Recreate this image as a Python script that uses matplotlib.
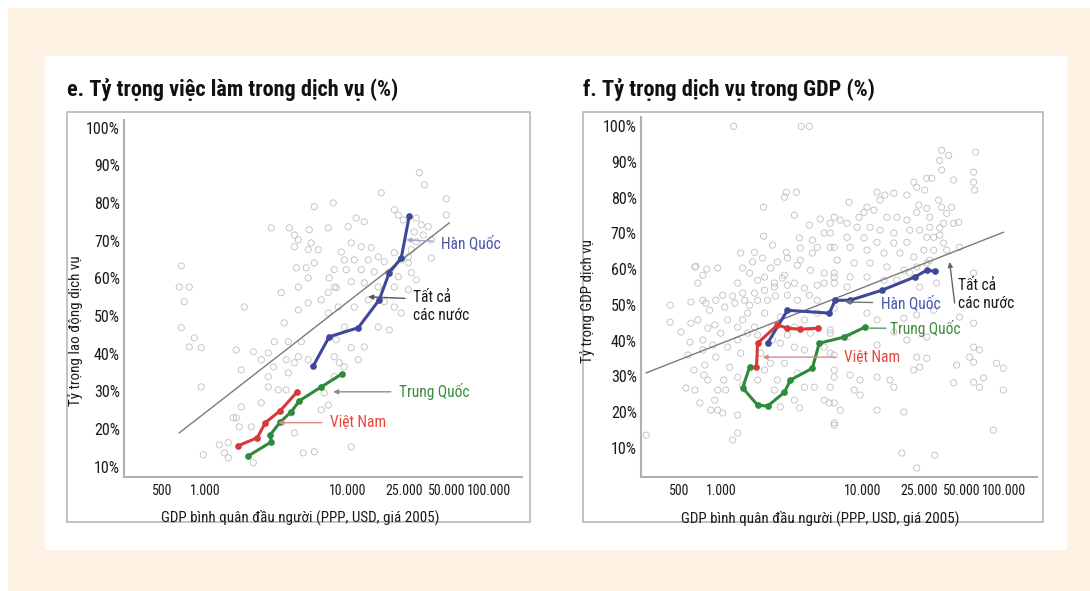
import numpy as np
import matplotlib
matplotlib.use('Agg')
import matplotlib.pyplot as plt
from matplotlib.patches import Rectangle
from matplotlib.ticker import FixedLocator, NullLocator

plt.rcParams['font.family'] = ['Roboto Condensed', 'DejaVu Sans']

# ---- background scatter, all countries (GDP per capita, share %) ----
emp_gdp = [5860, 7960, 2917, 3910, 4240, 7350, 5400, 5310, 6250, 4520, 4240, 678, 656, 771, 711,
           1884, 3428, 4520, 4380, 5140, 5860, 5310, 4520, 5310, 6560, 7350, 678, 837, 771, 937,
           1653, 2180, 3600, 3845, 3063, 4743, 2780, 3015, 3720, 4240, 4520, 5310, 3845, 2479, 1794,
           937, 2780, 3268, 3720, 2780, 2479, 1653, 1794, 1574, 2109, 1736, 1256, 1454, 1362, 968,
           1454, 4900, 5860, 2180, 4240, 4036, 6890, 8090, 8090, 7350, 6560, 7350, 8090, 7460, 5570,
           32150, 34860, 17340, 49770, 49770, 21430, 22870, 11570, 13180, 10160, 24790, 30620, 33190,
           37170, 29640, 34270, 30620, 39080, 39080, 28250, 10670, 12560, 14760, 9080, 9530, 11200,
           14060, 16520, 18230, 21430, 23990, 26900, 8090, 9840, 12560, 15490, 19450, 22870, 28250,
           30620, 21430, 26900, 8370, 10670, 13180, 16520, 8650, 11200, 14060, 18230, 21430, 23990,
           19760, 16520, 9530, 8370, 10670, 13180, 11950, 9530, 8790, 10670, 26900]
emp_pct = [79.0, 80.0, 73.4, 73.4, 71.5, 73.4, 72.9, 67.6, 67.6, 70.2, 68.4, 63.3, 57.7, 57.7, 53.8,
           52.4, 56.2, 57.7, 62.8, 62.8, 64.1, 60.1, 51.6, 53.5, 54.3, 50.8, 46.9, 44.2, 41.8, 41.6,
           41.0, 40.5, 48.2, 43.2, 43.2, 43.2, 40.2, 36.5, 38.4, 37.6, 39.2, 38.4, 34.9, 38.4, 35.7,
           31.2, 31.2, 30.4, 30.4, 33.9, 27.0, 23.0, 25.9, 23.0, 20.6, 20.6, 15.8, 16.4, 13.7, 13.2,
           12.4, 13.7, 14.0, 11.1, 19.0, 24.3, 29.6, 39.2, 33.9, 26.4, 25.1, 56.2, 57.7, 60.1, 69.4,
           88.0, 84.8, 82.7, 81.1, 76.8, 78.2, 76.8, 76.0, 75.0, 73.7, 75.5, 76.0, 74.2,
           73.7, 72.3, 71.5, 69.7, 70.2, 65.4, 67.6, 69.4, 68.4, 68.1, 67.0, 64.9, 64.9,
           64.9, 65.7, 64.4, 66.8, 64.9, 64.1, 62.3, 62.3, 62.3, 61.7, 61.5, 60.4, 61.5,
           59.6, 57.7, 57.0, 57.5, 59.1, 58.8, 57.7, 52.4, 52.4, 54.3, 53.8, 52.4, 50.8,
           46.3, 47.1, 47.1, 43.7, 41.6, 41.8, 38.4, 36.5, 37.6, 15.3, 65.7]

gdp_gdp = [1216, 3656, 4170, 2870, 3374, 2780, 1977, 3268, 4980, 4170, 5860, 1977, 2286, 3540, 4380,
           5310, 4743, 5860, 1362, 1706, 2870, 3600, 4380, 3600, 656, 784, 937, 735, 678, 1574,
           2213, 2010, 2780, 4240, 5310, 1297, 2360, 3268, 5310, 6250,
           35980, 40360, 62500, 34860, 35980, 60530, 43770, 60530, 61520, 22870, 28250, 30620, 23990,
           27340, 12560, 14290, 16520, 20420, 13180, 7960, 10670, 11950, 10160, 9370, 24790, 23990,
           28250, 34270, 35980, 42360, 29640, 39080, 47420, 43770, 37170, 34860, 29640, 17340, 14760,
           20420, 6250, 6890, 7709, 9080, 11200, 13180, 16520, 21430, 25190, 5860, 7709, 10160, 12560,
           16520, 20420, 28250, 31620, 34860, 37170, 26900, 31620, 39080, 48180, 6250, 8090, 10670,
           14060, 18230, 22870, 6560, 8650, 11200, 14760, 19450, 23990, 28250, 29640, 60530, 6250,
           8090, 10670, 14060, 17340, 21430,
           431, 605, 771, 431, 605, 514, 596, 759, 908, 893, 1050, 1236, 1454, 1706, 2010, 2360, 2917,
           3845, 4743, 1100, 984, 1100, 1297, 1524, 1362, 1138, 1297, 1067, 937, 797, 558, 646, 700,
           893, 937, 1016, 1297, 837, 292, 1194, 1297, 2360, 2600, 3268, 3540, 3845, 4520, 5310, 6250,
           5770, 6250, 2213, 2780, 3428, 2479, 2010, 1884, 2600, 3268, 3845, 5310, 5860, 1524, 2010,
           2600, 3845, 4743, 1297, 1706, 3268, 4240, 5860,
           6250, 7709, 25190, 33190, 6250, 10670, 12560, 19450, 23990, 31620, 60530, 48180, 5860, 7709,
           16520, 20420, 28250, 60530, 66690, 12560, 6250, 23990, 28250, 45920, 56750, 71120, 60530,
           66690, 87930, 98400, 98400, 60530, 25190, 22870, 6250, 8090, 9530, 12560, 15490, 16520,
           43770, 5860, 8650, 6250, 6890, 19450, 6250, 83750, 18840, 32150, 23990, 9530, 12560, 646,
           735, 822, 908, 1016, 1194, 1406, 1574, 1794, 2109, 2399, 2917, 3428, 4170, 4743, 678, 797,
           1406, 1794, 2286, 2917, 735, 865, 735, 577, 636, 747, 1033, 1794, 1406, 1406, 1653, 1945,
           2479, 2917, 3428, 1794, 2690]
gdp_pct = [99.9, 99.9, 99.9, 81.5, 81.5, 80.1, 77.3, 75.1, 74.0, 72.3, 72.8, 69.2, 66.7, 68.7, 68.1,
           70.1, 66.1, 66.1, 64.5, 64.7, 64.7, 65.9, 64.5, 62.5, 60.8, 60.0, 60.3, 58.3, 56.1, 58.9,
           60.3, 57.8, 58.3, 59.7, 58.9, 56.1, 56.1, 56.1, 56.1, 57.8,
           93.2, 91.8, 92.7, 90.4, 87.7, 87.1, 84.9, 84.3, 82.1, 84.3, 85.4, 85.4, 82.9,
           82.1, 81.5, 80.7, 81.2, 80.7, 79.3, 78.7, 77.3, 76.5, 75.9, 74.5, 77.9, 75.9,
           77.0, 79.3, 77.3, 77.3, 74.5, 75.6, 73.1, 72.8, 72.8, 71.5, 71.7, 74.5, 74.5,
           73.7, 74.5, 73.7, 72.8, 71.7, 71.7, 70.9, 70.1, 70.9, 70.9, 70.1, 68.9, 68.7, 67.5,
           67.3, 67.5, 68.9, 68.9, 69.5, 67.3, 65.3, 65.3, 65.3, 66.1, 66.1, 66.1, 65.3,
           64.5, 64.5, 63.4, 62.5, 61.7, 61.7, 60.6, 59.7, 60.6, 61.7, 62.5, 58.9, 58.9,
           57.8, 57.8, 56.9, 56.9, 58.9,
           49.9, 50.8, 50.5, 45.2, 44.9, 42.4, 39.6, 33.2, 35.4, 44.4, 49.4, 50.5, 51.3, 53.3, 54.1, 55.0, 55.5,
           54.7, 55.5, 45.8, 42.1, 38.2, 40.2, 42.1, 36.5, 32.6, 29.8, 26.2, 26.2, 29.0, 26.8, 26.2, 22.6,
           23.4, 20.6, 19.8, 19.2, 20.6, 13.6, 12.2, 14.2, 26.2, 21.5, 23.4, 21.2, 27.0, 27.0, 23.4, 29.8,
           22.6, 17.0, 33.7, 33.7, 30.9, 29.0, 31.8, 36.5, 39.3, 38.2, 37.4, 38.2, 36.5, 47.7, 47.7,
           46.6, 45.8, 47.7, 43.8, 43.8, 43.8, 42.1, 43.0,
           56.1, 55.0, 55.0, 56.1, 49.1, 47.7, 45.8, 46.3, 47.2, 48.5, 44.9, 46.6, 42.1, 41.0,
           42.4, 40.2, 41.0, 38.2, 37.4, 38.8, 36.0, 35.4, 35.1, 33.2, 35.4, 29.6, 28.4,
           27.0, 33.7, 32.3, 26.2, 34.0, 32.6, 31.8, 31.8, 30.4, 29.0, 29.8, 29.0, 27.0,
           28.2, 27.0, 26.2, 22.6, 20.6, 20.1, 16.4, 15.0, 8.6, 8.0, 4.4, 24.8, 20.6, 60.6,
           51.3, 48.5, 51.3, 52.7, 52.5, 53.3, 49.9, 51.3, 51.3, 52.5, 52.7, 51.3, 52.7, 51.3, 45.8, 43.5,
           45.8, 41.6, 40.2, 41.6, 37.4, 38.8, 40.2, 36.0, 31.8, 30.4, 29.0, 29.0, 27.6, 60.3, 62.0, 63.1,
           62.0, 63.1, 61.1, 56.9, 57.5]

# ---- country paths ----
emp_kor_gdp = [5770, 7460, 11950, 16790, 19760, 23990, 27340]
emp_kor_pct = [36.8, 44.5, 46.9, 54.3, 61.5, 65.4, 76.6]
emp_chn_gdp = [2010, 2917, 2870, 3374, 4036, 4594, 6561, 9230]
emp_chn_pct = [12.9, 16.6, 18.5, 21.9, 24.6, 27.5, 31.2, 34.7]
emp_vnm_gdp = [1706, 2323, 2647, 3374, 4446]
emp_vnm_pct = [15.6, 17.7, 21.7, 24.9, 29.9]
emp_fit_gdp = [656, 52240]
emp_fit_pct = [19.0, 74.7]

gdp_kor_gdp = [2109, 2917, 5770, 6350, 8090, 13600, 23230, 28250, 32150]
gdp_kor_pct = [39.3, 48.5, 47.7, 51.3, 51.3, 54.1, 57.8, 59.7, 59.4]
gdp_chn_gdp = [1574, 1406, 1794, 2109, 2780, 3063, 4376, 4898, 7350, 10330]
gdp_chn_pct = [32.6, 26.8, 22.0, 21.7, 25.6, 29.0, 32.3, 39.3, 41.0, 43.8]
gdp_vnm_gdp = [1762, 1794, 2479, 2917, 3597, 4820]
gdp_vnm_pct = [32.6, 39.3, 44.4, 43.5, 43.2, 43.5]
gdp_fit_gdp = [292, 98400]
gdp_fit_pct = [31.0, 70.3]

xticks = [500, 1000, 10000, 25000, 50000, 100000]
xtick_labels = ['500', '1.000', '10.000', '25.000', '50.000', '100.000']
yticks = list(range(10, 101, 10))

c_kor, c_chn, c_vnm = '#3d4899', '#2e8a3c', '#d9383a'
t_kor, t_chn, t_vnm = '#4a56a6', '#3c8c40', '#e8453a'
txt = '#1a1a1a'

fig = plt.figure(figsize=(10.9, 5.91), dpi=100, facecolor='white')
fig.patches.append(Rectangle((0.0073, 0), 1, 0.9865, transform=fig.transFigure,
                             facecolor='#fdf2e3', edgecolor='none', zorder=-3))
fig.patches.append(Rectangle((0.0413, 0.0694), 0.9376, 0.836, transform=fig.transFigure,
                             facecolor='white', edgecolor='none', zorder=-2))
for x0, w in [(0.0615, 0.4248), (0.5349, 0.422)]:
    fig.patches.append(Rectangle((x0, 0.1168), w, 0.6937, transform=fig.transFigure,
                                 facecolor='none', edgecolor='#b8b8b8', lw=1.2, zorder=-1))

ax1 = fig.add_axes([0.1138, 0.1929, 0.3651, 0.604])
ax2 = fig.add_axes([0.588, 0.1929, 0.3633, 0.609])


def style(ax, ylim):
    ax.set_xscale('log')
    ax.set_xlim(268, 170000)
    ax.set_ylim(*ylim)
    ax.xaxis.set_major_locator(FixedLocator(xticks))
    ax.xaxis.set_minor_locator(NullLocator())
    ax.set_xticklabels(xtick_labels)
    ax.set_yticks(yticks)
    ax.set_yticklabels(['%d%%' % v for v in yticks])
    ax.tick_params(length=0, colors=txt)
    ax.tick_params(axis='y', pad=3, labelsize=11.5)
    ax.tick_params(axis='x', pad=5, labelsize=10)
    for s in ['top', 'right']:
        ax.spines[s].set_visible(False)
    for s in ['left', 'bottom']:
        ax.spines[s].set_color('#b0b0b0')
        ax.spines[s].set_linewidth(1.5)
    ax.set_xlabel('GDP bình quân đầu người (PPP, USD, giá 2005)', fontsize=10.8, color=txt)


def draw(ax, sx, sy, paths, fit):
    ax.scatter(sx, sy, s=20, facecolors='none', edgecolors='#bebebe', linewidths=0.6, zorder=1)
    ax.plot(fit[0], fit[1], color='#7a7a7a', lw=1.0, zorder=2)
    for gx, gy, c in paths:
        ax.plot(gx, gy, color=c, lw=2.2, marker='o', ms=3.8, zorder=3)


style(ax1, (7.3, 102))
draw(ax1, emp_gdp, emp_pct,
     [(emp_kor_gdp, emp_kor_pct, c_kor), (emp_chn_gdp, emp_chn_pct, c_chn),
      (emp_vnm_gdp, emp_vnm_pct, c_vnm)], (emp_fit_gdp, emp_fit_pct))
ax1.set_ylabel('Tỷ trọng lao động dịch vụ', fontsize=10.8, color=txt)
ax1.yaxis.set_label_coords(-0.103, 0.41)
ax1.xaxis.set_label_coords(0.442, -0.09)

style(ax2, (1.9, 102.5))
draw(ax2, gdp_gdp, gdp_pct,
     [(gdp_kor_gdp, gdp_kor_pct, c_kor), (gdp_chn_gdp, gdp_chn_pct, c_chn),
      (gdp_vnm_gdp, gdp_vnm_pct, c_vnm)], (gdp_fit_gdp, gdp_fit_pct))
ax2.set_ylabel('Tỷ trọng GDP dịch vụ', fontsize=10.8, color=txt)
ax2.yaxis.set_label_coords(-0.116, 0.49)
ax2.xaxis.set_label_coords(0.452, -0.094)

arr = dict(arrowstyle='-|>', mutation_scale=7, lw=1.0, shrinkA=4, shrinkB=0)
fs = 11.2

# annotations, left panel
ax1.annotate('Hàn Quốc', xy=(26000, 70.2), xytext=(45900, 69.4), color=t_kor, fontsize=fs,
             va='center', ha='left', arrowprops=dict(arr, color='#a4a6d6'))
ax1.annotate('Tất cả\ncác nước', xy=(14050, 55.1), xytext=(29200, 52.4), color=txt,
             fontsize=fs, va='center', ha='left', linespacing=1.25,
             arrowprops=dict(arr, color='#555555', relpos=(0, 0.75)))
ax1.annotate('Trung Quốc', xy=(7960, 29.9), xytext=(23200, 29.9), color=t_chn, fontsize=fs,
             va='center', ha='left', arrowprops=dict(arr, color='#8c8c8c'))
ax1.annotate('Việt Nam', xy=(3270, 21.7), xytext=(7590, 21.7), color=t_vnm, fontsize=fs,
             va='center', ha='left', arrowprops=dict(arr, color='#d98a8a'))

# annotations, right panel
ax2.annotate('Hàn Quốc', xy=(7470, 50.8), xytext=(13400, 50.5), color=t_kor, fontsize=fs,
             va='center', ha='left', arrowprops=dict(arr, color='#777777'))
ax2.annotate('', xy=(41000, 62.0), xytext=(44500, 50.5),
             arrowprops=dict(arr, color='#666666', shrinkA=0))
ax2.text(46700, 53.0, 'Tất cả\ncác nước', color=txt, fontsize=fs, va='center',
         ha='left', linespacing=1.25)
ax2.annotate('Trung Quốc', xy=(11200, 43.5), xytext=(15500, 43.4), color=t_chn, fontsize=fs,
             va='center', ha='left',
             arrowprops=dict(arrowstyle='-', lw=1.2, color='#6aaa6e', shrinkA=1, shrinkB=0))
ax2.annotate('Việt Nam', xy=(1945, 35.4), xytext=(7350, 35.4), color=t_vnm, fontsize=fs,
             va='center', ha='left', arrowprops=dict(arr, color='#d98a8a'))

fig.text(0.0615, 0.838, 'e. Tỷ trọng việc làm trong dịch vụ (%)', fontsize=16,
         fontweight='bold', color='#111111')
fig.text(0.5349, 0.838, 'f. Tỷ trọng dịch vụ trong GDP (%)', fontsize=16,
         fontweight='bold', color='#111111')

fig.savefig('out.png', dpi=100, facecolor=fig.get_facecolor())
